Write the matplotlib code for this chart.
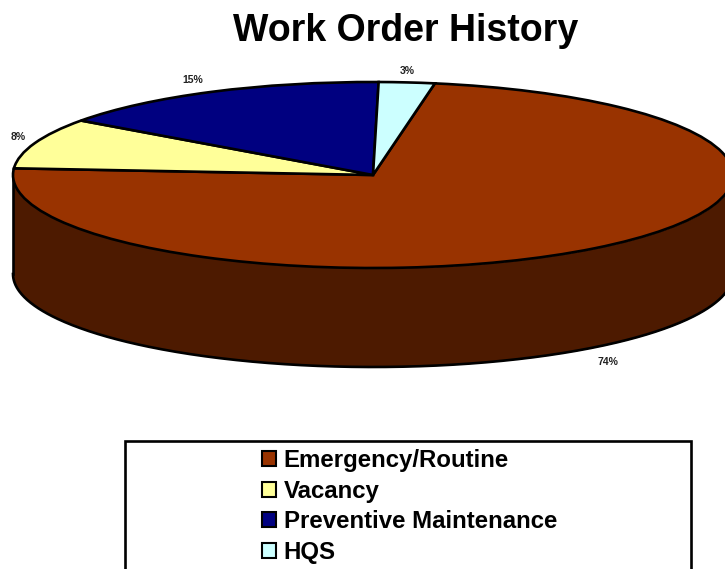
import matplotlib
matplotlib.use("Agg")
import matplotlib.pyplot as plt
import numpy as np
from matplotlib.patches import Rectangle

plt.rcParams["font.family"] = ["Liberation Sans", "DejaVu Sans"]

categories = ["Emergency/Routine", "Vacancy", "Preventive Maintenance", "HQS"]
# slice sizes as drawn (the tilted view stretches them a little from the printed labels)
shares = [73.4, 8.8, 15.3, 2.5]
pct_labels = ["74%", "8%", "15%", "3%"]
colors = ["#993300", "#FFFF99", "#000080", "#CCFFFF"]
side_color = "#4D1A00"

W, H = 725, 569
CX, CY = 373, 175  # pie centre in pixels
RX, RY = 360, 93
DEPTH = 99 / RY
LW = 1.9

# label anchors, pixels
label_pos = [(608, 362), (18, 137), (193, 80), (407, 71)]

fig = plt.figure(figsize=(W / 100, H / 100), dpi=100)
ax = fig.add_axes([0, 0, 1, 1])

wedges, _ = ax.pie(
    shares,
    colors=colors,
    startangle=80.1,
    counterclock=False,
    wedgeprops={"edgecolor": "black", "linewidth": LW, "zorder": 3},
)
ax.set_aspect("auto")
ax.set_xlim(-CX / RX, (W - CX) / RX)
ax.set_ylim((CY - H) / RY, CY / RY)
ax.axis("off")

# side wall of the disc
t = np.linspace(np.pi, 2 * np.pi, 400)
ax.fill_between(np.cos(t), np.sin(t), np.sin(t) - DEPTH, color=side_color, zorder=1, lw=0)
ax.plot(np.cos(t), np.sin(t) - DEPTH, color="black", lw=LW, zorder=2)
ax.plot([-1, -1], [0, -DEPTH], color="black", lw=LW, zorder=2)

for s, (px, py) in zip(pct_labels, label_pos):
    fig.text(px / W, 1 - py / H, s, fontsize=7.5, fontweight="bold", color="#222222",
             ha="center", va="center")

fig.text(405.5 / W, 1 - 31 / H, "Work Order History", fontsize=27, fontweight="bold",
         ha="center", va="center")

# legend box runs off the bottom of the picture
fig.add_artist(Rectangle((125 / W, 1 - 600 / H), 566 / W, 159 / H, transform=fig.transFigure,
                         facecolor="white", edgecolor="black", linewidth=LW))
leg = fig.legend(
    wedges,
    categories,
    loc="upper left",
    bbox_to_anchor=(262 / W, 1 - 449 / H),
    frameon=False,
    prop={"weight": "bold", "size": 17.25},
    borderpad=0,
    borderaxespad=0,
    labelspacing=0.315,
    handlelength=0.59,
    handleheight=0.59,
    handletextpad=0.31,
)
leg.set_zorder(5)
for h in leg.legend_handles:
    h.set_edgecolor("black")
    h.set_linewidth(1.5)

fig.savefig("out.png", dpi=100)
